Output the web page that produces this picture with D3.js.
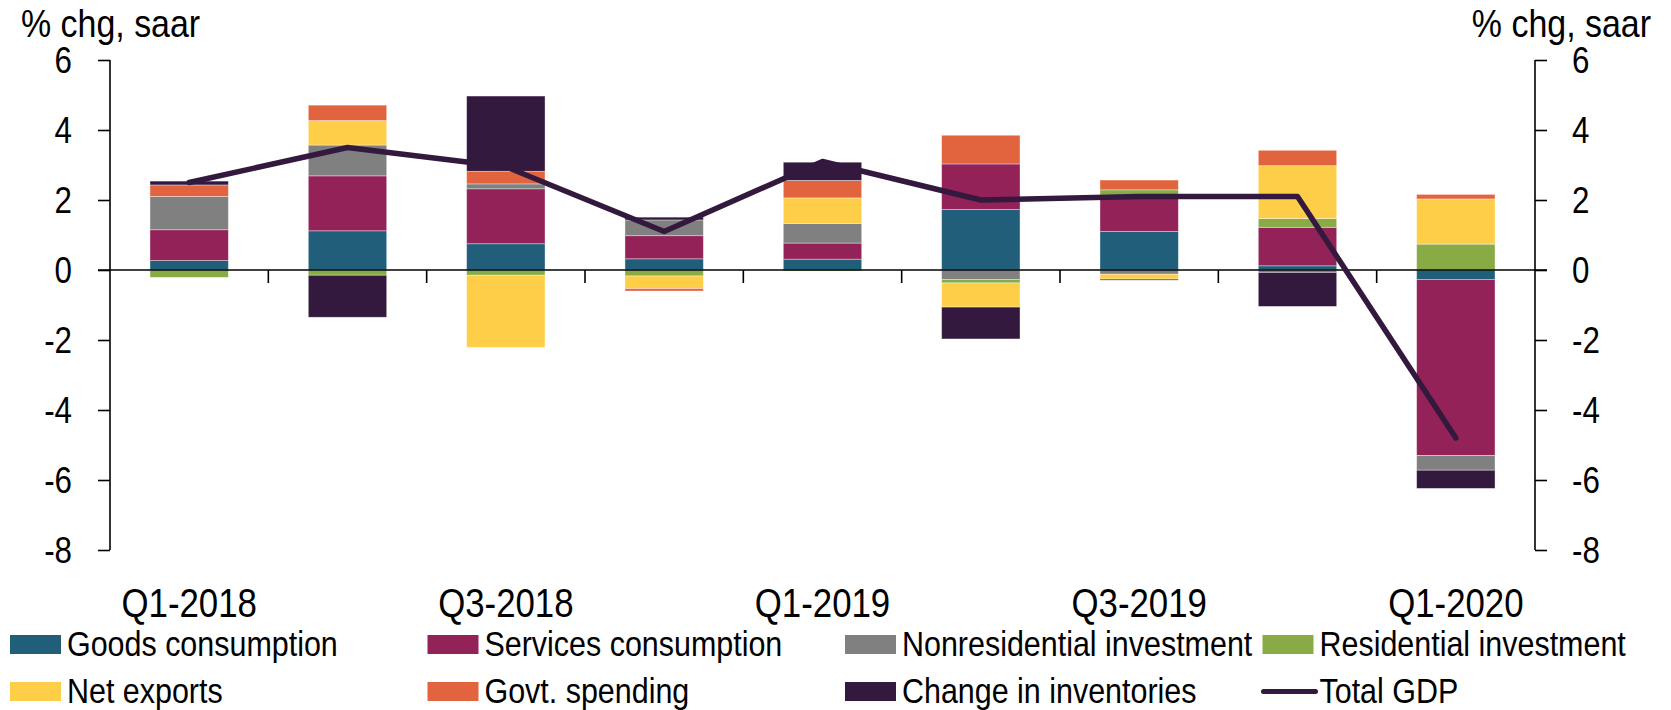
<!DOCTYPE html>
<html>
<head>
<meta charset="utf-8">
<script src="https://cdn.jsdelivr.net/npm/d3@7"></script>
<style>
  html, body { margin: 0; padding: 0; background: #fff; }
  svg text { font-family: "Liberation Sans", Arial, sans-serif; fill: #000; }
</style>
</head>
<body>
<svg id="chart" width="1671" height="710"></svg>
<script>
// contributions to real GDP growth, % chg saar
const quarters = ["Q1-2018", "Q2-2018", "Q3-2018", "Q4-2018", "Q1-2019", "Q2-2019", "Q3-2019", "Q4-2019", "Q1-2020"];
const goods       = [0.27, 1.12, 0.75, 0.32, 0.31, 1.73, 1.10, 0.12, -0.27];
const services    = [0.88, 1.57, 1.57, 0.66, 0.46, 1.30, 1.04, 1.10, -5.03];
const nonres      = [0.95, 0.88, 0.14, 0.45, 0.56, -0.27, -0.12, -0.07, -0.42];
const residential = [-0.21, -0.15, -0.15, -0.17, -0.03, -0.10, 0.15, 0.25, 0.74];
const netExports  = [0.00, 0.70, -2.06, -0.36, 0.73, -0.69, -0.14, 1.51, 1.29];
const govt        = [0.33, 0.44, 0.36, -0.07, 0.50, 0.82, 0.28, 0.44, 0.13];
const inventories = [0.11, -1.20, 2.15, 0.08, 0.52, -0.91, -0.03, -0.97, -0.52];
const totalGdp    = [2.5, 3.5, 2.95, 1.1, 3.1, 2.0, 2.1, 2.1, -4.8];

const yTicks = [-8, -6, -4, -2, 0, 2, 4, 6];
const xLabels = ["Q1-2018", "Q3-2018", "Q1-2019", "Q3-2019", "Q1-2020"];

const seriesNames = ["Goods consumption", "Services consumption", "Nonresidential investment", "Residential investment",
                     "Net exports", "Govt. spending", "Change in inventories"];
const seriesValues = [goods, services, nonres, residential, netExports, govt, inventories];
const colors = ["#215e79", "#922257", "#808080", "#89ab45", "#ffce49", "#e2643e", "#33193d"];
const lineColor = "#33193d";

let svg = d3.select("#chart");

let plotLeft = 110, plotRight = 1535, plotTop = 60, plotBottom = 550;

// no narrow font installed, so squeeze regular text horizontally
function narrow(sel) {
    sel.each(function () {
        let t = d3.select(this);
        let tx = +t.attr("x") || 0, ty = +t.attr("y") || 0;
        t.attr("x", 0).attr("y", 0).attr("transform", `translate(${tx},${ty}) scale(0.87,1)`);
    });
}

let x = d3.scaleBand()
    .domain(quarters)
    .range([plotLeft, plotRight])
    .paddingInner(0.505)
    .paddingOuter(0.2525);

let y = d3.scaleLinear().domain([-8, 6]).range([plotBottom, plotTop]);

// build rows for the stack
let rows = quarters.map((q, i) => {
    let r = { q: q };
    seriesNames.forEach((s, j) => r[s] = seriesValues[j][i]);
    return r;
});

let stack = d3.stack().keys(seriesNames).offset(d3.stackOffsetDiverging);
let layers = stack(rows);

svg.append("g")
    .selectAll("g")
    .data(layers)
    .join("g")
    .attr("fill", (d, i) => colors[i])
    .selectAll("rect")
    .data(d => d)
    .join("rect")
    .attr("x", d => x(d.data.q))
    .attr("width", x.bandwidth())
    .attr("y", d => y(Math.max(d[0], d[1])))
    .attr("height", d => Math.abs(y(d[0]) - y(d[1])))
    .attr("stroke", "#fff")
    .attr("stroke-width", 0.8)
    .attr("stroke-opacity", 0.45);

// left and right axes
let leftAxis = d3.axisLeft(y).tickValues(yTicks).tickSize(12).tickPadding(26).tickFormat(d => String(d));
let gl = svg.append("g").attr("transform", `translate(${plotLeft},0)`).call(leftAxis);
let rightAxis = d3.axisRight(y).tickValues(yTicks).tickSize(12).tickPadding(25).tickFormat(d => String(d));
let gr = svg.append("g").attr("transform", `translate(${plotRight},0)`).call(rightAxis);

[gl, gr].forEach(g => {
    g.select(".domain").remove();
    g.selectAll(".tick line").attr("stroke", "#000").attr("stroke-width", 1.6);
    g.selectAll(".tick text").attr("font-size", 36).attr("dy", "0.36em").attr("fill", "#000")
        .style("font-family", "'Liberation Sans', Arial, sans-serif")
        .call(narrow);
});

svg.append("line").attr("x1", plotLeft).attr("x2", plotLeft).attr("y1", y(6)).attr("y2", y(-8))
    .attr("stroke", "#000").attr("stroke-width", 1.6);
svg.append("line").attr("x1", plotRight).attr("x2", plotRight).attr("y1", y(6)).attr("y2", y(-8))
    .attr("stroke", "#000").attr("stroke-width", 1.6);

// zero line with category ticks
svg.append("line").attr("x1", plotLeft - 12).attr("x2", plotRight + 12).attr("y1", y(0)).attr("y2", y(0))
    .attr("stroke", "#000").attr("stroke-width", 1.6);

let boundaries = quarters.slice(1).map(q => x(q) + x.bandwidth() / 2 - x.step() / 2);
svg.append("g").selectAll("line")
    .data(boundaries)
    .join("line")
    .attr("x1", d => d).attr("x2", d => d)
    .attr("y1", y(0)).attr("y2", y(0) + 13)
    .attr("stroke", "#000").attr("stroke-width", 1.6);

// category labels
svg.append("g").selectAll("text")
    .data(xLabels)
    .join("text")
    .attr("x", d => x(d) + x.bandwidth() / 2)
    .attr("y", 617)
    .attr("text-anchor", "middle")
    .attr("font-size", 40)
    .text(d => d)
    .call(narrow);

// total GDP line
let line = d3.line()
    .x((d, i) => x(quarters[i]) + x.bandwidth() / 2)
    .y(d => y(d));

svg.append("path")
    .datum(totalGdp)
    .attr("d", line)
    .attr("fill", "none")
    .attr("stroke", lineColor)
    .attr("stroke-width", 5.5)
    .attr("stroke-linejoin", "round")
    .attr("stroke-linecap", "round");

// axis titles
svg.append("text").attr("x", 21).attr("y", 37).attr("font-size", 39).text("% chg, saar").call(narrow);
svg.append("text").attr("x", 1651).attr("y", 37).attr("font-size", 39).attr("text-anchor", "end")
    .text("% chg, saar").call(narrow);

// legend
let legendItems = seriesNames.map((s, i) => ({ name: s, color: colors[i], type: "rect" }))
    .concat([{ name: "Total GDP", color: lineColor, type: "line" }]);

let legend = svg.append("g");
legendItems.forEach((item, i) => {
    let col = i % 4, row = Math.floor(i / 4);
    let lx = 10 + col * 417.5;
    let ly = 635 + row * 47;
    let g = legend.append("g").attr("transform", `translate(${lx},${ly})`);
    if (item.type === "rect") {
        g.append("rect").attr("width", 51).attr("height", 19).attr("fill", item.color);
    } else {
        g.append("line").attr("x1", 1).attr("x2", 53).attr("y1", 9.5).attr("y2", 9.5)
            .attr("stroke", item.color).attr("stroke-width", 5).attr("stroke-linecap", "round");
    }
    g.append("text").attr("x", 57).attr("y", 21).attr("font-size", 35).text(item.name).call(narrow);
});
</script>
</body>
</html>
